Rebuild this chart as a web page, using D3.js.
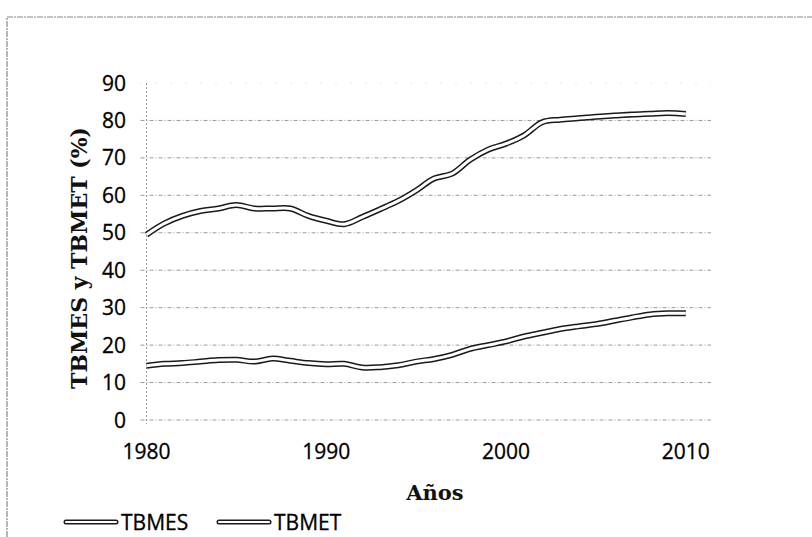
<!DOCTYPE html>
<html>
<head>
<meta charset="utf-8">
<script src="https://cdn.jsdelivr.net/npm/d3@7"></script>
<style>
  body { margin: 0; background: #fff; }
  .tick-label { font-family: "Open Sans", sans-serif; font-size: 21px; fill: #000; stroke: #000; stroke-width: 0.3px; }
  .axis-title { font-family: "DejaVu Serif", serif; font-weight: bold; fill: #111; }
</style>
</head>
<body>
<div id="chart"></div>
<script>
// Data
var years = d3.range(1980, 2011);
var tbmes = [49.5, 52.5, 54.5, 55.8, 56.5, 57.4, 56.5, 56.5, 56.5, 54.5,
             53.2, 52.3, 54.2, 56.3, 58.5, 61.3, 64.5, 65.8, 69.5, 72.2,
             73.8, 76.0, 79.5, 80.2, 80.6, 81.0, 81.3, 81.6, 81.8, 82.0, 81.7];
var tbmet = [14.5, 15.0, 15.2, 15.6, 16.0, 16.1, 15.6, 16.4, 15.8, 15.2,
             14.9, 15.0, 14.0, 14.1, 14.6, 15.6, 16.3, 17.4, 19.0, 20.0,
             21.0, 22.3, 23.3, 24.3, 25.0, 25.6, 26.5, 27.4, 28.2, 28.5, 28.5];
var seriesNames = ["TBMES", "TBMET"];
var yTicks = [0, 10, 20, 30, 40, 50, 60, 70, 80, 90];
var xTicks = [1980, 1990, 2000, 2010];

var svgWidth = 812;
var svgHeight = 537;

var svg = d3.select("#chart")
    .append("svg")
    .attr("width", svgWidth)
    .attr("height", svgHeight);

// scanned frame, top and left edges
svg.append("path")
    .attr("d", "M7,537 L7,17 L812,17")
    .attr("fill", "none")
    .attr("stroke", "#888")
    .attr("stroke-width", 1.2)
    .attr("stroke-dasharray", "6,1,2,1");

// Scales
var x = d3.scaleLinear().domain([1980, 2011.4]).range([146.5, 711]);
var y = d3.scaleLinear().domain([0, 90]).range([420, 83]);

// gridlines
svg.append("g")
    .selectAll("line")
    .data(yTicks)
    .enter()
    .append("line")
    .attr("x1", x(1980) - 6)
    .attr("x2", x.range()[1])
    .attr("y1", d => y(d))
    .attr("y2", d => y(d))
    .attr("stroke", d => d == 90 ? "#ccc" : "#9a9a9a")
    .attr("stroke-width", 1)
    .attr("stroke-dasharray", d => d == 90 ? "1,14" : "4,2,1,2");

// y axis line
svg.append("line")
    .attr("x1", x(1980))
    .attr("x2", x(1980))
    .attr("y1", y(90))
    .attr("y2", y(0) + 4)
    .attr("stroke", "#999")
    .attr("stroke-dasharray", "2,2");

// y tick labels
svg.append("g")
    .selectAll("text")
    .data(yTicks)
    .enter()
    .append("text")
    .attr("class", "tick-label")
    .attr("x", 126)
    .attr("y", d => y(d))
    .attr("dy", "0.36em")
    .attr("text-anchor", "end")
    .text(d => d);

// x tick labels
svg.append("g")
    .selectAll("text")
    .data(xTicks)
    .enter()
    .append("text")
    .attr("class", "tick-label")
    .attr("x", d => x(d))
    .attr("y", 459)
    .attr("text-anchor", "middle")
    .text(d => d);

// axis titles
svg.append("text")
    .attr("class", "axis-title")
    .attr("x", 435)
    .attr("y", 500)
    .attr("text-anchor", "middle")
    .style("font-size", "21px")
    .text("Años");

svg.append("text")
    .attr("class", "axis-title")
    .attr("transform", "translate(87,258) rotate(-90)")
    .attr("text-anchor", "middle")
    .style("font-size", "22px")
    .text("TBMES y TBMET (%)");

// Lines, drawn as a dark band with a white core (double outline look)
var line = d3.line()
    .x((d, i) => x(years[i]))
    .y(d => y(d))
    .curve(d3.curveCatmullRom.alpha(0.5));

[tbmes, tbmet].forEach(function(vals) {
    svg.append("path")
        .attr("d", line(vals))
        .attr("fill", "none")
        .attr("stroke", "#1a1a1a")
        .attr("stroke-width", 6);
    svg.append("path")
        .attr("d", line(vals))
        .attr("fill", "none")
        .attr("stroke", "#fff")
        .attr("stroke-width", 3);
});

// Legend
var legendX = [66, 219];
var legend = svg.append("g");
seriesNames.forEach(function(name, i) {
    legend.append("line")
        .attr("x1", legendX[i])
        .attr("x2", legendX[i] + 50)
        .attr("y1", 522)
        .attr("y2", 522)
        .attr("stroke", "#1a1a1a")
        .attr("stroke-width", 5)
        .attr("stroke-linecap", "round");
    legend.append("line")
        .attr("x1", legendX[i])
        .attr("x2", legendX[i] + 50)
        .attr("y1", 522)
        .attr("y2", 522)
        .attr("stroke", "#fff")
        .attr("stroke-width", 2.2)
        .attr("stroke-linecap", "round");
    legend.append("text")
        .attr("class", "tick-label")
        .attr("x", legendX[i] + 55)
        .attr("y", 522)
        .attr("dy", "0.36em")
        .text(name);
});
</script>
</body>
</html>
